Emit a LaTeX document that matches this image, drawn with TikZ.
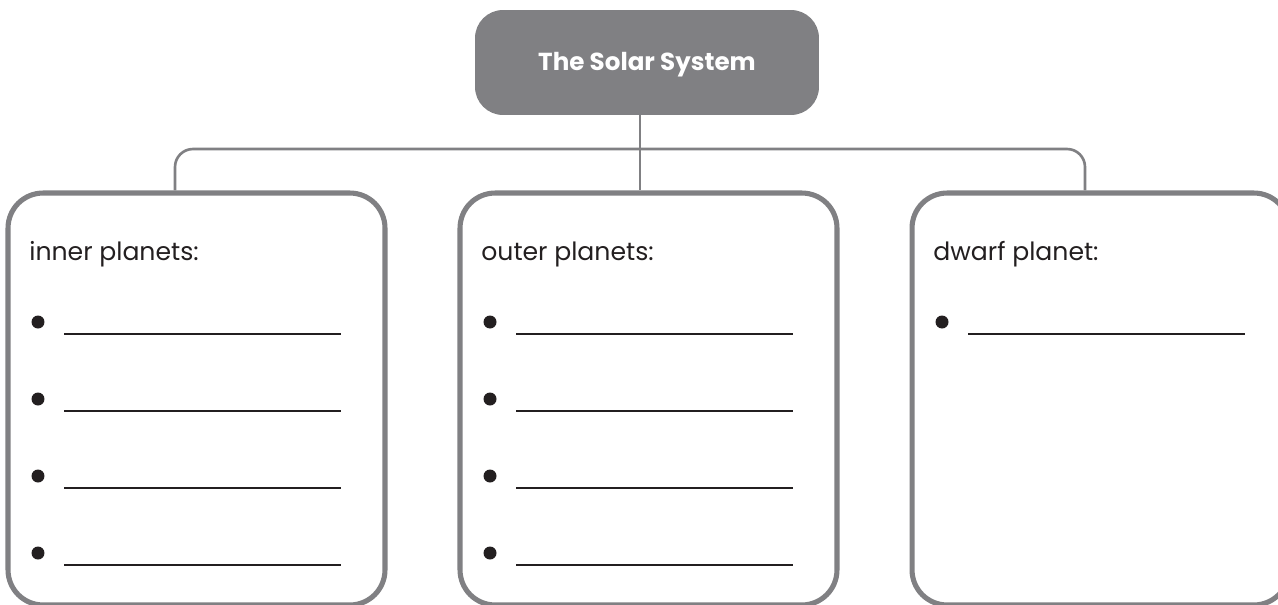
\documentclass[tikz,border=0pt]{standalone}
\usepackage{fontspec}
\setmainfont{Poppins}
\usepackage{tikz}

\definecolor{slate}{RGB}{128,128,131}
\definecolor{ink}{RGB}{35,31,32}

\tikzset{
  heading/.style={fill=slate, rounded corners=0.56cm, minimum width=6.88cm,
    minimum height=2.1cm, inner sep=0pt, text=white, text height=0.9em,
    text depth=0pt, font=\bfseries\fontsize{14}{16}\selectfont},
  panel/.style={draw=slate, line width=2.9pt, rounded corners=0.7cm,
    minimum width=7.54cm, minimum height=8.24cm, inner sep=0pt},
  boxlabel/.style={anchor=base west, inner sep=0pt, text=ink,
    font=\fontsize{14.3}{16}\selectfont},
  link/.style={draw=slate, line width=1.5pt, rounded corners=0.36cm},
  rule/.style={draw=ink, line width=1pt},
}

\begin{document}
\begin{tikzpicture}[x=0.02cm, y=-0.02cm]
    \useasboundingbox (0,0) rectangle (1278,605);
    \node[heading] (title) at (647,62.5) {The Solar System};

    % the three boxes with their answer lines
    \foreach \pnl/\lx/\n/\lbl in {inner/8/4/inner planets:, outer/460/4/outer planets:, dwarf/912/1/dwarf planet:} {
        \node[panel] (\pnl) at (\lx+188.5,399) {};
        \node[boxlabel] (\pnl-head) at (\lx+21,260) {\lbl};
        \foreach \k in {1,...,\n} {
            \fill[ink] (\lx+30,245+77*\k) circle (0.13cm);
            \draw[rule] (\lx+56,257+77*\k) -- (\lx+333,257+77*\k);
        }
    }

    \coordinate (hub) at (640,149);
    \coordinate (dropL) at (175,149);
    \coordinate (dropR) at (1085,149);
    \draw[link] (hub |- title.south) -- (hub |- outer.north);
    \draw[link] (dropL |- inner.north) -- (dropL) -- (dropR) -- (dropR |- dwarf.north);
\end{tikzpicture}
\end{document}
